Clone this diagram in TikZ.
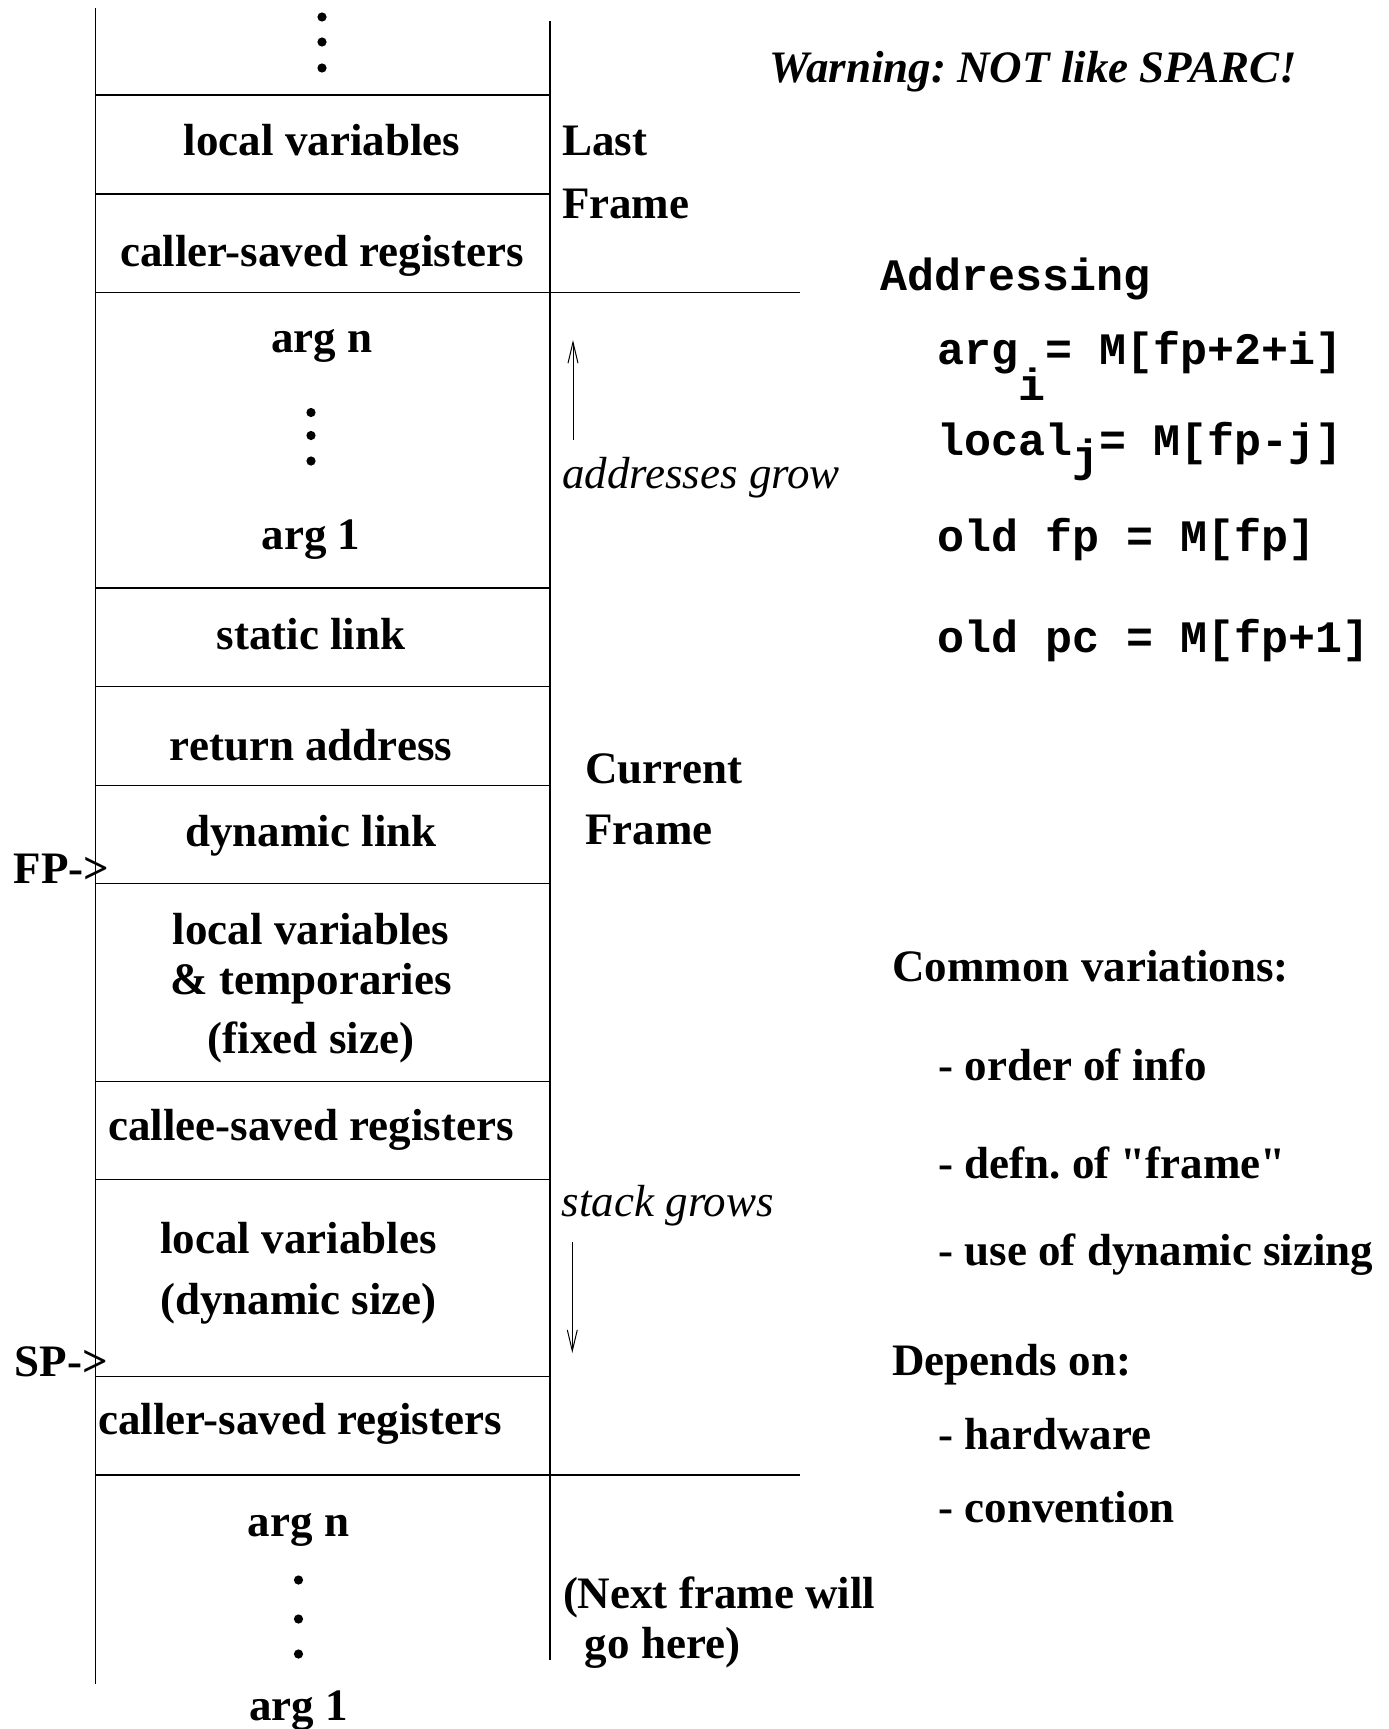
\documentclass[tikz,border=0pt]{standalone}
\usepackage{fontspec}
\setmainfont{Liberation Serif}[Ligatures=TeXOff]
\newfontfamily\monofont{Liberation Mono}
\usetikzlibrary{arrows.meta}
\begin{document}
\frenchspacing
\begin{tikzpicture}[x=0.5pt,y=-0.5pt,
  frame/.style={line width=0.65pt},
  txt/.style={inner sep=0pt, font=\fontsize{22.5}{27}\selectfont\bfseries},
  ctxt/.style={txt, anchor=base},
  ltxt/.style={txt, anchor=base west},
  itxt/.style={inner sep=0pt, anchor=base west, font=\fontsize{22.5}{27}\selectfont\itshape},
  mono/.style={inner sep=0pt, anchor=base west, font=\fontsize{22.5}{27}\selectfont\monofont\bfseries},
  arr/.style={line width=0.5pt, -{Straight Barb[length=10.5pt,width=5pt]}},
  dot/.style={radius=2.3pt}]
\useasboundingbox (0,0) rectangle (1388,1729);
% stack outline
\coordinate (LT) at (95.5,8.4);  \coordinate (LB) at (95.5,1683.6);
\coordinate (RT) at (550,21);    \coordinate (RB) at (550,1659.6);
\draw[frame] (LT) -- (LB);
\draw[frame] (RT) -- (RB);
\foreach \y in {94.9,194,587.9,686.6,785.4,883.7,1081.2,1179.5,1376.4}
  \draw[frame] (95.5,\y) -- (550,\y);
\draw[frame] (95.5,292.5) -- (800,292.5);
\draw[frame] (95.5,1475) -- (800,1475);
% dots
\foreach \y in {17,42,68} \fill (322,\y) circle[dot];
\foreach \y in {412.5,435.5,461} \fill (311,\y) circle[dot];
\foreach \y in {1580,1619,1654} \fill (298.5,\y) circle[dot];
% cell texts
\node[ctxt] (lv1) at (322,155) {local variables};
\node[ctxt] (crs1) at (322,266) {caller-saved registers};
\node[ctxt] (argn1) at (322,352) {arg n};
\node[ctxt] (arg11) at (311,549) {arg 1};
\node[ctxt] (sl) at (311,649.5) {static link};
\node[ctxt] (ra) at (311,760.5) {return address};
\node[ctxt] (dl) at (311,846.6) {dynamic link};
\node[ctxt] (lv2a) at (311,944) {local variables};
\node[ctxt] (lv2b) at (311,994) {\& temporaries};
\node[ctxt] (lv2c) at (311,1053) {(fixed size)};
\node[ctxt] (cer) at (311,1140) {callee-saved registers};
\node[ctxt] (lv3a) at (298.5,1253.4) {local variables};
\node[ctxt] (lv3b) at (298.5,1314) {(dynamic size)};
\node[ctxt] (crs2) at (300,1434) {caller-saved registers};
\node[ctxt] (argn2) at (298.5,1536) {arg n};
\node[ctxt] (arg12) at (298.5,1720.5) {arg 1};
% pointers
\node[ltxt] (fp) at (13.4,883) {FP->};
\node[ltxt] (sp) at (14.4,1376) {SP->};
% frame labels
\node[ltxt] (last1) at (561.6,155) {Last};
\node[ltxt] (last2) at (561.6,218) {Frame};
\node[ltxt] (cur1) at (585,783.5) {Current};
\node[ltxt] (cur2) at (585,844.7) {Frame};
\node[ltxt] (next1) at (562.6,1608) {(Next frame will};
\node[ltxt] (next2) at (584.4,1658) {go here)};
% growth arrows
\node[itxt] (ag) at (561.6,488) {addresses grow};
\node[itxt] (sg) at (561.4,1216.5) {stack grows};
\coordinate (upS) at (573,440);  \coordinate (upE) at (573,340);
\coordinate (dnS) at (572.3,1241.6); \coordinate (dnE) at (572.3,1353);
\draw[arr] (upS) -- (upE);
\draw[arr] (dnS) -- (dnE);
% right side
\node[inner sep=0pt, anchor=base west, font=\fontsize{22.5}{27}\selectfont\bfseries\itshape] (warn) at (769,82.6) {Warning: NOT like SPARC!};
\node[mono] (addr) at (880,290) {Addressing};
\node[mono] (argi) at (937,364) {arg\raisebox{-18pt}{i}= M[fp+2+i]};
\node[mono] (locj) at (937,455) {local\raisebox{-8pt}{j}= M[fp-j]};
\node[mono] (ofp) at (937,551) {old fp = M[fp]};
\node[mono] (opc) at (937,652) {old pc = M[fp+1]};
\node[ltxt] (cv) at (892,981) {Common variations:};
\node[ltxt] (cv1) at (938,1080) {- order of info};
\node[ltxt] (cv2) at (938,1178) {- defn. of "frame"};
\node[ltxt] (cv3) at (938,1265) {- use of dynamic sizing};
\node[ltxt] (dep) at (892,1375) {Depends on:};
\node[ltxt] (dep1) at (938,1449) {- hardware};
\node[ltxt] (dep2) at (938,1522) {- convention};
\end{tikzpicture}
\end{document}
